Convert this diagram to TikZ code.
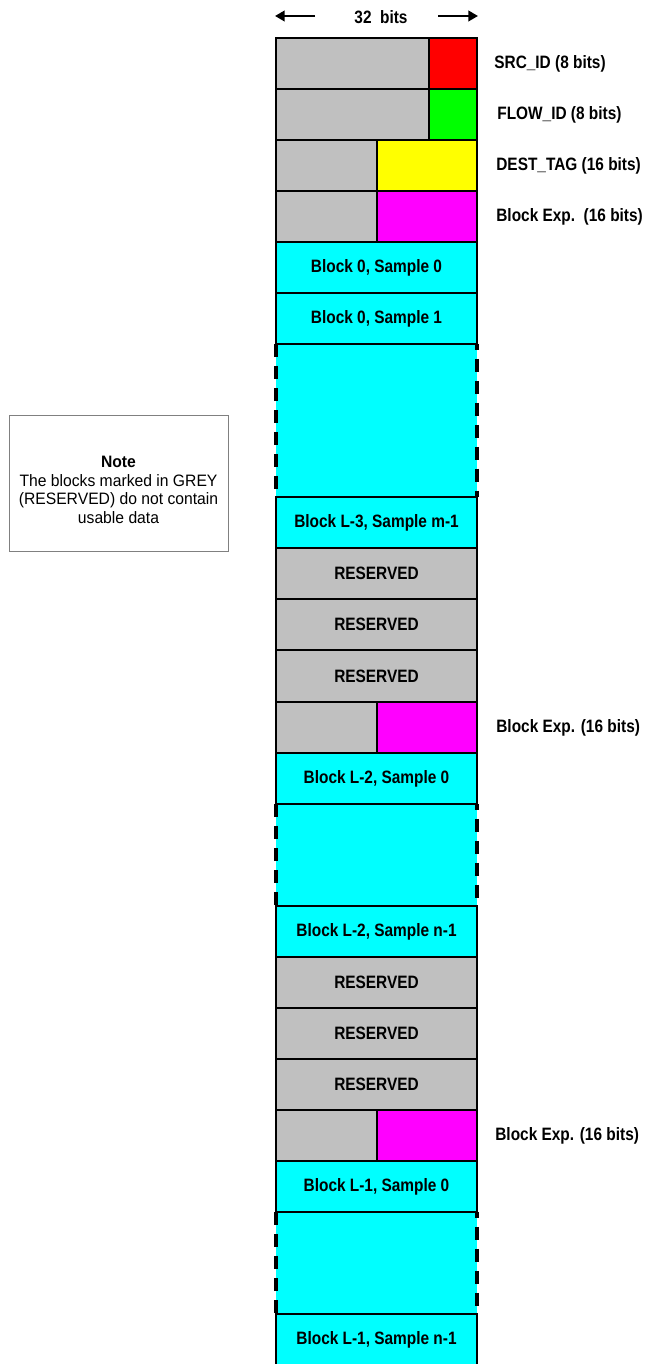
\documentclass[tikz,border=0pt]{standalone}
\usepackage{fontspec}
\setmainfont{Liberation Sans}
\newfontfamily\narrowfont[FakeStretch=0.86]{Liberation Sans}
\newfontfamily\notefont[FakeStretch=0.95]{Liberation Sans}
\usepackage{tikz}
\usetikzlibrary{arrows.meta}

\definecolor{resgrey}{RGB}{192,192,192}
\definecolor{srcred}{RGB}{255,0,0}
\definecolor{flowgreen}{RGB}{0,255,0}
\definecolor{tagyellow}{RGB}{255,255,0}
\definecolor{expmagenta}{RGB}{255,0,255}
\definecolor{samplecyan}{RGB}{0,255,255}

\begin{document}
\begin{tikzpicture}[x=0.02cm,y=-0.02cm,
cell/.style={draw=black,line width=0.8pt},
side/.style={line width=1.8pt,dash pattern=on 7.5pt off 5pt},
lbl/.style={inner sep=0pt,font=\narrowfont\bfseries\fontsize{10.2}{12}\selectfont},
widearrow/.style={line width=1.3pt,-{Triangle[length=5.5pt,width=6pt]}}]

\useasboundingbox (0,0) rectangle (646,1364);

\node[lbl] (bits) at (381,17) {32\ \ bits};
\coordinate (bl) at (315,16);
\coordinate (blend) at (275,16);
\coordinate (br) at (438,16);
\coordinate (brend) at (478,16);
\draw[widearrow] (bl) -- (blend);
\draw[widearrow] (br) -- (brend);

\fill[samplecyan] (276,344) rectangle (477,497);
\draw[side] (276,344) -- (276,497);
\draw[side,dash phase=4pt] (477,344) -- (477,497);
\fill[samplecyan] (276,804) rectangle (477,906);
\draw[side] (276,804) -- (276,906);
\draw[side,dash phase=4pt] (477,804) -- (477,906);
\fill[samplecyan] (276,1212) rectangle (477,1314);
\draw[side] (276,1212) -- (276,1314);
\draw[side,dash phase=4pt] (477,1212) -- (477,1314);

\draw[cell,fill=resgrey] (276,38) rectangle (429,89);
\draw[cell,fill=srcred] (429,38) rectangle (477,89);
\draw[cell,fill=resgrey] (276,89) rectangle (429,140);
\draw[cell,fill=flowgreen] (429,89) rectangle (477,140);
\draw[cell,fill=resgrey] (276,140) rectangle (377,191);
\draw[cell,fill=tagyellow] (377,140) rectangle (477,191);
\draw[cell,fill=resgrey] (276,191) rectangle (377,242);
\draw[cell,fill=expmagenta] (377,191) rectangle (477,242);
\draw[cell,fill=samplecyan] (276,242) rectangle (477,293);
\draw[cell,fill=samplecyan] (276,293) rectangle (477,344);
\draw[cell,fill=samplecyan] (276,497) rectangle (477,548);
\draw[cell,fill=resgrey] (276,548) rectangle (477,599);
\draw[cell,fill=resgrey] (276,599) rectangle (477,650);
\draw[cell,fill=resgrey] (276,650) rectangle (477,702);
\draw[cell,fill=resgrey] (276,702) rectangle (377,753);
\draw[cell,fill=expmagenta] (377,702) rectangle (477,753);
\draw[cell,fill=samplecyan] (276,753) rectangle (477,804);
\draw[cell,fill=samplecyan] (276,906) rectangle (477,957);
\draw[cell,fill=resgrey] (276,957) rectangle (477,1008);
\draw[cell,fill=resgrey] (276,1008) rectangle (477,1059);
\draw[cell,fill=resgrey] (276,1059) rectangle (477,1110);
\draw[cell,fill=resgrey] (276,1110) rectangle (377,1161);
\draw[cell,fill=expmagenta] (377,1110) rectangle (477,1161);
\draw[cell,fill=samplecyan] (276,1161) rectangle (477,1212);
\draw[cell,fill=samplecyan] (276,1314) rectangle (477,1366);

\node[lbl] (b0s0) at (376.5,267.5) {Block 0, Sample 0};
\node[lbl] (b0s1) at (376.5,318.5) {Block 0, Sample 1};
\node[lbl] (l3sm) at (376.5,522.5) {Block L-3, Sample m-1};
\node[lbl] (resa) at (376.5,573.5) {RESERVED};
\node[lbl] (resb) at (376.5,624.5) {RESERVED};
\node[lbl] (resc) at (376.5,676) {RESERVED};
\node[lbl] (l2s0) at (376.5,778.5) {Block L-2, Sample 0};
\node[lbl] (l2sn) at (376.5,931.5) {Block L-2, Sample n-1};
\node[lbl] (resd) at (376.5,982.5) {RESERVED};
\node[lbl] (rese) at (376.5,1033.5) {RESERVED};
\node[lbl] (resf) at (376.5,1084.5) {RESERVED};
\node[lbl] (l1s0) at (376.5,1186.5) {Block L-1, Sample 0};
\node[lbl] (l1sn) at (376.5,1339.5) {Block L-1, Sample n-1};

\node[lbl,anchor=west] (srcid) at (494,64) {SRC\_ID (8 bits)};
\node[lbl,anchor=west] (flowid) at (497,115) {FLOW\_ID (8 bits)};
\node[lbl,anchor=west] (desttag) at (496,166) {DEST\_TAG (16 bits)};
\node[lbl,anchor=west] (expa) at (496,217) {Block Exp.\ \ (16 bits)};
\node[lbl,anchor=west] (expb) at (496,728) {Block Exp. (16 bits)};
\node[lbl,anchor=west] (expc) at (495,1136) {Block Exp. (16 bits)};

\draw[gray,line width=0.5pt] (9,415) rectangle (228,551);
\node[inner sep=0pt,align=center,font=\notefont\fontsize{9.4}{10.5}\selectfont] (note) at (118.5,490)
{\textbf{Note}\\The blocks marked in GREY\\(RESERVED) do not contain\\usable data};

\end{tikzpicture}
\end{document}
